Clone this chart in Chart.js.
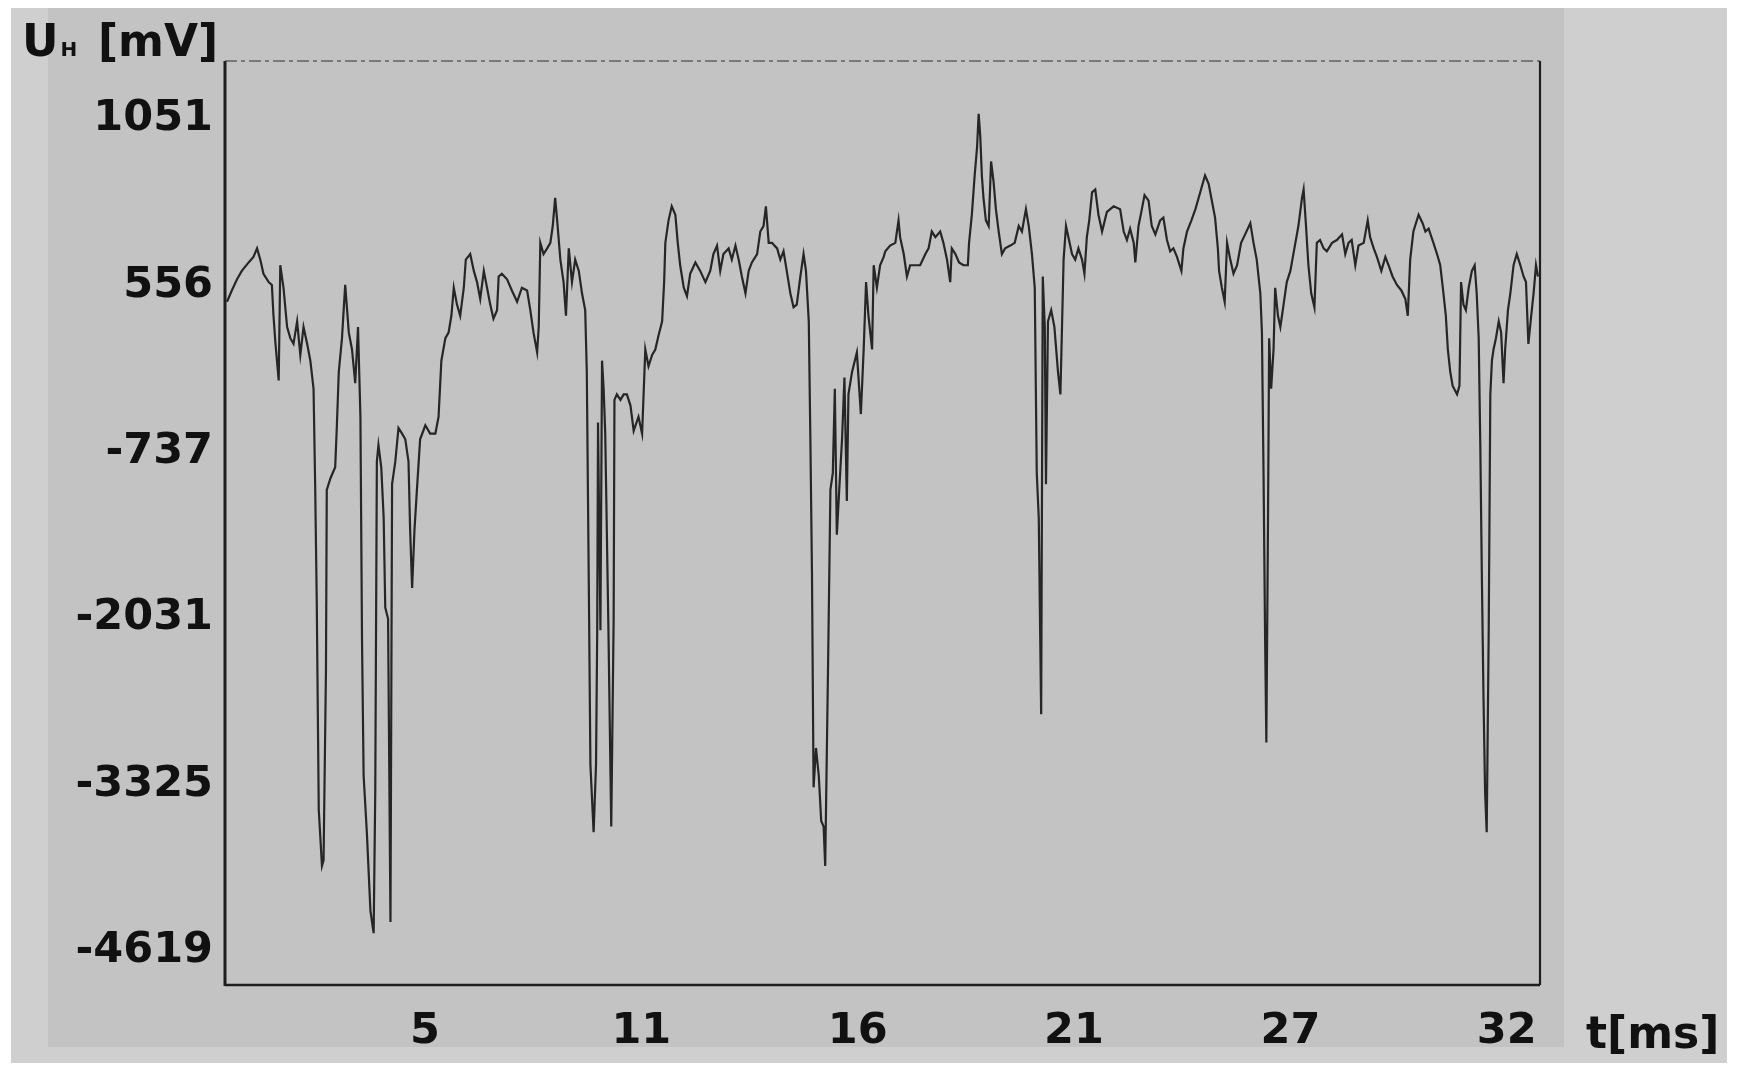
<!DOCTYPE html>
<html><head><meta charset="utf-8">
<script src="https://cdn.jsdelivr.net/npm/chart.js@4.4.1/dist/chart.umd.min.js"></script>
<style>html,body{margin:0;padding:0;background:#fff;overflow:hidden}#wrap{width:1741px;height:1080px;position:relative}canvas{display:block}</style>
</head><body><div id="wrap"><canvas id="c" width="1741" height="1080"></canvas></div>
<script>
// time in ms
const timeMs = [
  0.46,0.58,0.71,0.83,1.00,1.12,1.21,1.29,1.37,1.50,1.58,1.62,1.67,1.75,1.79,1.87,1.96,2.04,2.12,2.21,2.29,2.37,2.46,2.54,2.62,2.66,2.70,2.75,2.83,2.87,2.93,2.95,3.04,3.16,3.20,3.25,3.33,3.41,3.50,3.58,3.66,3.73,3.79,3.83,3.87,3.95,4.04,4.12,4.16,4.20,4.24,4.31,4.37,4.41,4.48,4.54,4.58,4.66,4.74,4.83,4.91,4.99,5.03,5.08,5.14,5.20,5.28,5.41,5.53,5.66,5.74,5.81,
  5.91,5.99,6.06,6.12,6.20,6.28,6.37,6.42,6.53,6.62,6.70,6.78,6.87,6.95,7.03,7.11,7.20,7.24,7.32,7.45,7.57,7.70,7.82,7.95,8.03,8.11,8.20,8.24,8.28,8.36,8.45,8.53,8.59,8.65,8.70,8.78,8.86,8.92,8.99,9.07,9.15,9.24,9.32,9.40,9.44,9.49,9.53,9.61,9.67,9.70,9.72,9.78,9.82,9.86,9.90,9.98,10.05,10.11,10.13,10.19,10.28,10.36,10.44,10.53,10.61,10.73,10.82,10.90,10.98,11.07,11.15,11.23,11.32,
  11.37,11.40,11.48,11.56,11.65,11.71,11.77,11.86,11.94,12.02,12.15,12.27,12.40,12.52,12.60,12.69,12.77,12.85,12.98,13.06,13.15,13.23,13.31,13.40,13.48,13.56,13.69,13.77,13.85,13.91,13.98,14.06,14.19,14.27,14.35,14.43,14.52,14.60,14.68,14.77,14.85,14.91,14.98,15.02,15.06,15.10,15.16,15.23,15.29,15.35,15.39,15.46,15.52,15.58,15.63,15.68,15.74,15.81,15.87,15.93,15.97,16.06,16.18,16.28,16.35,16.41,16.47,16.56,16.60,16.68,16.76,16.85,
  16.89,17.01,17.14,17.22,17.26,17.35,17.43,17.51,17.64,17.76,17.89,17.97,18.05,18.14,18.26,18.34,18.43,18.51,18.55,18.64,18.73,18.84,18.95,18.98,19.05,19.12,19.18,19.22,19.26,19.30,19.34,19.40,19.47,19.53,19.59,19.65,19.72,19.80,19.88,20.01,20.12,20.22,20.30,20.40,20.47,20.55,20.62,20.67,20.72,20.78,20.82,20.87,20.90,20.95,21.03,21.11,21.20,21.26,21.30,21.34,21.40,21.46,21.55,21.63,21.71,21.80,21.86,21.92,21.98,22.05,22.13,22.21,22.30,
  22.42,22.59,22.75,22.84,22.92,23.00,23.09,23.13,23.21,23.28,23.36,23.46,23.54,23.63,23.75,23.83,23.92,24.00,24.08,24.17,24.28,24.33,24.42,24.53,24.63,24.75,24.87,24.96,25.04,25.12,25.19,25.22,25.29,25.36,25.42,25.50,25.58,25.67,25.77,25.87,26.00,26.08,26.16,26.25,26.29,26.33,26.37,26.40,26.44,26.47,26.52,26.58,26.62,26.69,26.75,26.83,26.91,27.00,27.10,27.20,27.29,27.33,27.39,27.45,27.52,27.60,27.66,27.74,27.83,
  27.91,28.04,28.16,28.29,28.37,28.45,28.53,28.62,28.70,28.83,28.93,28.99,29.08,29.16,29.27,29.37,29.45,29.55,29.66,29.77,29.87,29.93,29.99,30.07,30.20,30.30,30.37,30.45,30.57,30.66,30.74,30.82,30.88,30.93,30.99,31.05,31.16,31.22,31.26,31.32,31.38,31.45,31.53,31.60,31.65,31.70,31.74,31.78,31.82,31.86,31.90,31.95,31.99,32.03,32.07,32.13,32.20,32.26,32.32,32.36,32.43,32.49,32.57,32.65,32.74,32.82,32.88,32.94,33.01,33.07,33.13,33.18
];
// Hall voltage in mV
const voltageMv = [
  429,517,604,669,735,778,844,757,647,582,560,320,102,-182,713,538,233,146,102,277,15,233,102,-29,-247,-989,-1906,-3520,-3957,-3913,-2429,-1033,-945,-858,-553,-116,146,560,189,58,-204,233,-465,-2211,-3258,-3695,-4306,-4480,-3389,-814,-684,-858,-1251,-1949,-2036,-4393,-989,-814,-553,-596,-640,-814,-1338,-1796,-1338,-1033,-640,-531,-596,-596,-465,-29,
  146,189,320,538,407,320,538,757,800,669,582,451,669,538,407,298,364,626,647,604,517,429,538,517,364,189,36,233,887,800,844,887,1018,1237,1062,757,582,320,844,582,757,669,495,364,-116,-1775,-3171,-3695,-3171,-2124,-509,-2124,-29,-247,-596,-2124,-3651,-2036,-334,-291,-334,-291,-291,-378,-575,-465,-596,58,-72,15,58,167,277,
  582,887,1062,1171,1106,887,713,538,473,647,735,669,582,669,800,866,669,800,844,757,866,757,626,495,669,735,800,975,1018,1171,887,887,844,757,822,669,495,386,407,626,800,669,277,-640,-1687,-3346,-3040,-3258,-3607,-3651,-3957,-2429,-1033,-902,-247,-1382,-1033,-640,-160,-1120,-291,-116,36,-444,58,582,320,58,713,538,713,778,
  822,866,887,1062,931,800,626,713,713,713,800,844,975,931,975,887,757,582,844,800,735,713,713,887,1106,1411,1629,1891,1717,1411,1237,1062,1018,1520,1368,1149,975,800,844,866,887,1018,975,1149,1018,800,538,-902,-1251,-2778,626,233,-989,277,364,233,-116,-291,233,757,1018,931,800,757,844,757,647,931,1062,1280,1302,1106,975,
  1128,1171,1149,975,909,997,887,735,1018,1128,1258,1215,1018,953,1062,1084,909,822,844,778,669,844,975,1062,1149,1280,1411,1346,1215,1084,844,669,538,429,887,757,647,713,887,953,1040,887,757,495,189,-902,-2211,-2997,-1338,146,-247,58,538,320,233,407,582,669,844,1018,1237,1302,1018,713,495,386,887,909,844,
  822,887,909,953,800,887,909,713,866,887,1062,931,844,778,669,778,713,626,560,517,451,320,757,975,1106,1040,975,997,887,800,713,495,320,58,-116,-225,-291,-225,582,407,364,538,669,713,495,146,-684,-1731,-2647,-3389,-3695,-2124,-291,-29,58,146,277,189,-204,58,364,495,713,800,713,626,582,102,320,495,713,626
];
const xTickPos = [5.4, 10.8, 16.2, 21.6, 27.0, 32.4];
const xTickLabels = ['5', '11', '16', '21', '27', '32'];
const yTickPos = [-4619, -3325, -2031, -737, 556, 1850];
const yTickLabels = ['-4619', '-3325', '-2031', '-737', '556', '1051'];
const xRange = [0.41, 33.23];
const yRange = [-4883, 2301];
const yTitleMain = 'U', yTitleSub = 'H', yTitleUnit = '[mV]';
const xTitle = 't[ms]';

const n = Math.min(timeMs.length, voltageMv.length);
const points = [];
for (let i = 0; i < n; i++) points.push({x: timeMs[i], y: voltageMv[i]});

const FONT = 'DejaVu Sans';
const decor = {
  id: 'decor',
  beforeDraw(chart) {
    const ctx = chart.ctx;
    ctx.save();
    ctx.fillStyle = '#ffffff'; ctx.fillRect(0, 0, 1741, 1080);
    ctx.fillStyle = '#cfcfcf'; ctx.fillRect(11, 8, 1716, 1055);
    ctx.fillStyle = '#c3c3c3'; ctx.fillRect(48, 8, 1516, 1039);
    ctx.restore();
  },
  afterDraw(chart) {
    const ctx = chart.ctx, a = chart.chartArea;
    ctx.save();
    // frame
    ctx.strokeStyle = '#1e1e1e';
    ctx.lineWidth = 3;
    ctx.beginPath(); ctx.moveTo(a.left, a.top); ctx.lineTo(a.left, a.bottom + 1); ctx.stroke();
    ctx.lineWidth = 2.5;
    ctx.beginPath(); ctx.moveTo(a.left, a.bottom); ctx.lineTo(a.right, a.bottom); ctx.stroke();
    ctx.lineWidth = 2.2;
    ctx.beginPath(); ctx.moveTo(a.right, a.top); ctx.lineTo(a.right, a.bottom); ctx.stroke();
    ctx.strokeStyle = 'rgba(60,60,60,0.55)';
    ctx.lineWidth = 2;
    ctx.setLineDash([12, 4, 4, 4]);
    ctx.beginPath(); ctx.moveTo(a.left, a.top); ctx.lineTo(a.right, a.top); ctx.stroke();
    ctx.setLineDash([]);
    // titles
    ctx.fillStyle = '#111';
    ctx.textBaseline = 'alphabetic';
    ctx.textAlign = 'left';
    ctx.font = 'bold 45px "' + FONT + '"';
    ctx.fillText(yTitleMain, 22, 56);
    const uw = ctx.measureText(yTitleMain).width;
    ctx.font = 'bold 20px "' + FONT + '"';
    ctx.fillText(yTitleSub, 22 + uw + 2, 56);
    ctx.font = 'bold 44px "' + FONT + '"';
    ctx.fillText(yTitleUnit, 98, 56);
    ctx.fillText(xTitle, 1586, 1048);
    ctx.restore();
  }
};

new Chart(document.getElementById('c'), {
  type: 'line',
  data: {
    datasets: [{
      data: points,
      borderColor: '#262626',
      borderWidth: 2.2,
      pointRadius: 0,
      tension: 0,
      fill: false
    }]
  },
  options: {
    responsive: false,
    animation: false,
    devicePixelRatio: 1,
    layout: {padding: {left: 0, top: 61, right: 201, bottom: 0}},
    plugins: {legend: {display: false}, tooltip: {enabled: false}},
    scales: {
      x: {
        type: 'linear',
        min: xRange[0], max: xRange[1],
        grid: {display: false, drawTicks: false},
        border: {display: false},
        afterBuildTicks: s => { s.ticks = xTickPos.map(v => ({value: v})); },
        afterFit: s => { s.height = 95; },
        ticks: {
          autoSkip: false, maxRotation: 0, padding: 21,
          color: '#111',
          font: {family: FONT, size: 43, weight: 'bold'},
          callback: (v, i) => xTickLabels[i]
        }
      },
      y: {
        type: 'linear',
        min: yRange[0], max: yRange[1],
        grid: {display: false, drawTicks: false},
        border: {display: false},
        afterBuildTicks: s => { s.ticks = yTickPos.map(v => ({value: v})); },
        afterFit: s => { s.width = 225; },
        ticks: {
          autoSkip: false, padding: 12,
          color: '#111',
          font: {family: FONT, size: 43, weight: 'bold'},
          callback: (v, i) => yTickLabels[i]
        }
      }
    }
  },
  plugins: [decor]
});
</script>
</body></html>
